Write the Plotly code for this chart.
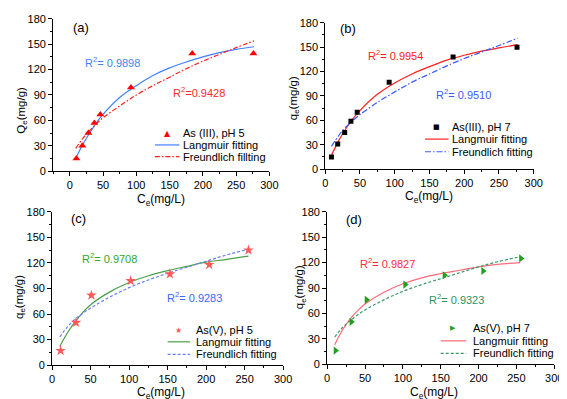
import plotly.graph_objects as go

W, H = 567, 399

# ---- data ----
# (a) As(III), pH 5
a_ce = [10, 19, 28, 37, 46, 92, 184, 276]
a_qe = [15, 30, 45, 57, 67, 99, 139, 139]
a_fit_x = [9, 20, 30, 40, 50, 75, 100, 125, 150, 175, 200, 225, 250, 277]
a_lang = [15, 32, 45, 57, 67, 87, 101, 113, 122, 129, 135, 140, 144, 147]
a_freu = [27, 39, 48, 56, 63, 77, 90, 101, 111, 121, 130, 138, 146, 154]

# (b) As(III), pH 7
b_ce = [9, 18, 28, 37, 46, 92, 184, 276]
b_qe = [15, 31, 45, 59, 70, 107, 138, 150]
b_fit_x = [9, 20, 30, 40, 50, 75, 100, 125, 150, 175, 200, 225, 250, 277]
b_lang = [17, 36, 50, 62, 72, 92, 106, 117, 126, 134, 140, 145, 149, 153]
b_freu = [28, 42, 52, 60, 67, 82, 95, 107, 117, 127, 136, 144, 152, 161]

# (c) As(V), pH 5
c_ce = [11, 31, 51, 102, 153, 204, 255]
c_qe = [17, 50, 82, 99, 107, 118, 135]
c_fit_x = [10, 20, 30, 40, 50, 75, 100, 125, 150, 175, 200, 225, 255]
c_lang = [22, 38, 51, 62, 71, 86, 97, 105, 111, 116, 121, 124, 128]
c_freu = [33, 45, 54, 61, 67, 80, 91, 100, 108, 115, 122, 129, 136]

# (d) As(V), pH 7
d_ce = [11, 32, 52, 103, 155, 206, 256]
d_qe = [16, 50, 76, 94, 105, 110, 125]
d_fit_x = [10, 20, 30, 40, 50, 75, 100, 125, 150, 175, 200, 225, 255]
d_lang = [23, 40, 53, 63, 71, 85, 95, 102, 107, 111, 115, 118, 120]
d_freu = [32, 43, 51, 58, 64, 76, 86, 94, 101, 108, 115, 121, 127]

FONT = "Liberation Sans, Arial, sans-serif"


def px(x):
    return x / W


def py(y):
    return 1 - y / H


fig = go.Figure()

# panel boxes in pixels: (left, right, top, bottom), x range
panels = [
    ((43, 264, 5, 162), [-25, 300]),
    ((321, 534, 9, 160), [0, 300]),
    ((42, 278, 204, 362), [0, 300]),
    ((323, 555, 204, 361), [0, 300]),
]

for i, ((l, r, t, b), xr) in enumerate(panels):
    n = "" if i == 0 else str(i + 1)
    common = dict(showline=True, linecolor="black", linewidth=1, showgrid=False,
                  zeroline=False, ticks="outside", ticklen=4, tickwidth=1,
                  tickcolor="black", tickfont=dict(size=11, family=FONT, color="black"))
    fig.update_layout(**{
        "xaxis" + n: dict(domain=[px(l), px(r)], range=xr, dtick=50, tick0=0,
                          anchor="y" + n,
                          minor=dict(ticks="outside", ticklen=2, dtick=25, tick0=0,
                                     tickcolor="black"),
                          **common),
        "yaxis" + n: dict(domain=[py(b), py(t)], range=[0, 180], dtick=30,
                          anchor="x" + n,
                          minor=dict(ticks="outside", ticklen=2, dtick=15, tick0=0,
                                     tickcolor="black"),
                          **common),
    })

# ---- traces ----
def add_panel(xa, ya, ce, qe, sym, msize, mcol, fx, lang, lcol, freu, fcol, fdash):
    fig.add_trace(go.Scatter(x=fx, y=lang, mode="lines", line=dict(color=lcol, width=1.2, shape="spline"),
                             xaxis=xa, yaxis=ya, showlegend=False))
    fig.add_trace(go.Scatter(x=fx, y=freu, mode="lines",
                             line=dict(color=fcol, width=1.2, dash=fdash, shape="spline"),
                             xaxis=xa, yaxis=ya, showlegend=False))
    fig.add_trace(go.Scatter(x=ce, y=qe, mode="markers",
                             marker=dict(symbol=sym, size=msize, color=mcol, line=dict(width=0)),
                             xaxis=xa, yaxis=ya, showlegend=False))


add_panel("x", "y", a_ce, a_qe, "triangle-up", 7, "#ff0000", a_fit_x, a_lang, "#3f82ff",
          a_freu, "#ff2020", "5px,2px,1.5px,2px")
add_panel("x2", "y2", b_ce, b_qe, "square", 5, "#000000", b_fit_x, b_lang, "#ff2020",
          b_freu, "#3a5cff", "6px,2px,1.5px,2px")
add_panel("x3", "y3", c_ce, c_qe, "star", 8, "#ff5a5a", c_fit_x, c_lang, "#4aa04a",
          c_freu, "#6b7dff", "3px,2px")
add_panel("x4", "y4", d_ce, d_qe, "triangle-right", 7, "#1fa01f", d_fit_x, d_lang, "#ff6b7a",
          d_freu, "#3a9a6a", "3px,2px")

ann = []
shapes = []


def text(x, y, s, color="black", size=11, xanchor="left", yanchor="middle", angle=0):
    ann.append(dict(x=px(x), y=py(y), xref="paper", yref="paper", text=s, showarrow=False,
                    xanchor=xanchor, yanchor=yanchor, textangle=angle,
                    font=dict(size=size, family=FONT, color=color)))


# axis titles
ce_title = "C<sub>e</sub>(mg/L)"
text(153, 181, ce_title, size=12, xanchor="center", yanchor="top")
text(427, 178, ce_title, size=12, xanchor="center", yanchor="top")
text(153, 380, ce_title, size=12, xanchor="center", yanchor="top")
text(432, 380, ce_title, size=12, xanchor="center", yanchor="top")
text(11, 99, "Q<sub>e</sub>(mg/g)", size=11.5, xanchor="center", angle=-90)
text(289, 87, "q<sub>e</sub>(mg/g)", size=11.5, xanchor="center", angle=-90)
text(9, 292, "q<sub>e</sub>(mg/g)", size=11.5, xanchor="center", angle=-90)
text(295, 282, "q<sub>e</sub>(mg/g)", size=11.5, xanchor="center", angle=-90)

# panel letters
text(61, 14, "(a)", size=13)
text(334, 15, "(b)", size=13)
text(59, 211, "(c)", size=13)
text(340, 212, "(d)", size=13)

# R^2 labels
text(74, 49, "R<sup>2</sup>= 0.9898", "#3d85f0")
text(163, 80, "R<sup>2</sup>=0.9428", "#ff2a2a")
text(363, 42, "R<sup>2</sup>= 0.9954", "#ff1a1a")
text(432, 82, "R<sup>2</sup>= 0.9510", "#3b5bff")
text(70, 252, "R<sup>2</sup>= 0.9708", "#2fa82f")
text(157, 292, "R<sup>2</sup>= 0.9283", "#3b66ff")
text(355, 257, "R<sup>2</sup>= 0.9827", "#ff2a3a")
text(425, 294, "R<sup>2</sup>= 0.9323", "#2e9060")


# legends drawn by hand (rows are tighter than plotly's legend allows)
def legend(x_line0, x_line1, x_txt, rows, glyph, gcol, gsize, labels, lcol, fcol, fdash):
    ann.append(dict(x=px((x_line0 + x_line1) / 2), y=py(rows[0]), xref="paper", yref="paper",
                    text=glyph, showarrow=False, xanchor="center", yanchor="middle",
                    font=dict(size=gsize, family="DejaVu Sans", color=gcol)))
    for k, (col, dash) in enumerate([(lcol, "solid"), (fcol, fdash)]):
        shapes.append(dict(type="line", xref="paper", yref="paper",
                           x0=px(x_line0), x1=px(x_line1), y0=py(rows[k + 1]), y1=py(rows[k + 1]),
                           line=dict(color=col, width=1.2, dash=dash)))
    for k, lab in enumerate(labels):
        text(x_txt, rows[k], lab, size=11)


legend(147, 172, 174, [123, 135, 147], "▲", "#ff0000", 8,
       ["As (III), pH 5", "Langmuir fitting", "Freundlich fillting"],
       "#3f82ff", "#ff2020", "5px,2px,1.5px,2px")
legend(423, 447, 448, [117, 129, 142], "■", "#000000", 7,
       ["As(III), pH 7", "Langmuir fitting", "Freundlich fitting"],
       "#ff2020", "#3a5cff", "6px,2px,1.5px,2px")
legend(160, 183, 187, [326, 338, 351], "★", "#ff5a5a", 8,
       ["As(V), pH 5", "Langmuir fitting", "Freundlich fitting"],
       "#4aa04a", "#6b7dff", "3px,2px")
legend(439, 465, 470, [324, 337, 350], "▶", "#1fa01f", 7,
       ["As(V), pH 7", "Langmuir fitting", "Freundlich fitting"],
       "#ff6b7a", "#3a9a6a", "3px,2px")

fig.update_layout(width=W, height=H, margin=dict(l=0, r=0, t=0, b=0),
                  paper_bgcolor="white", plot_bgcolor="white",
                  annotations=ann, shapes=shapes, showlegend=False,
                  font=dict(family=FONT, color="black"))

fig.write_html("out.html")
